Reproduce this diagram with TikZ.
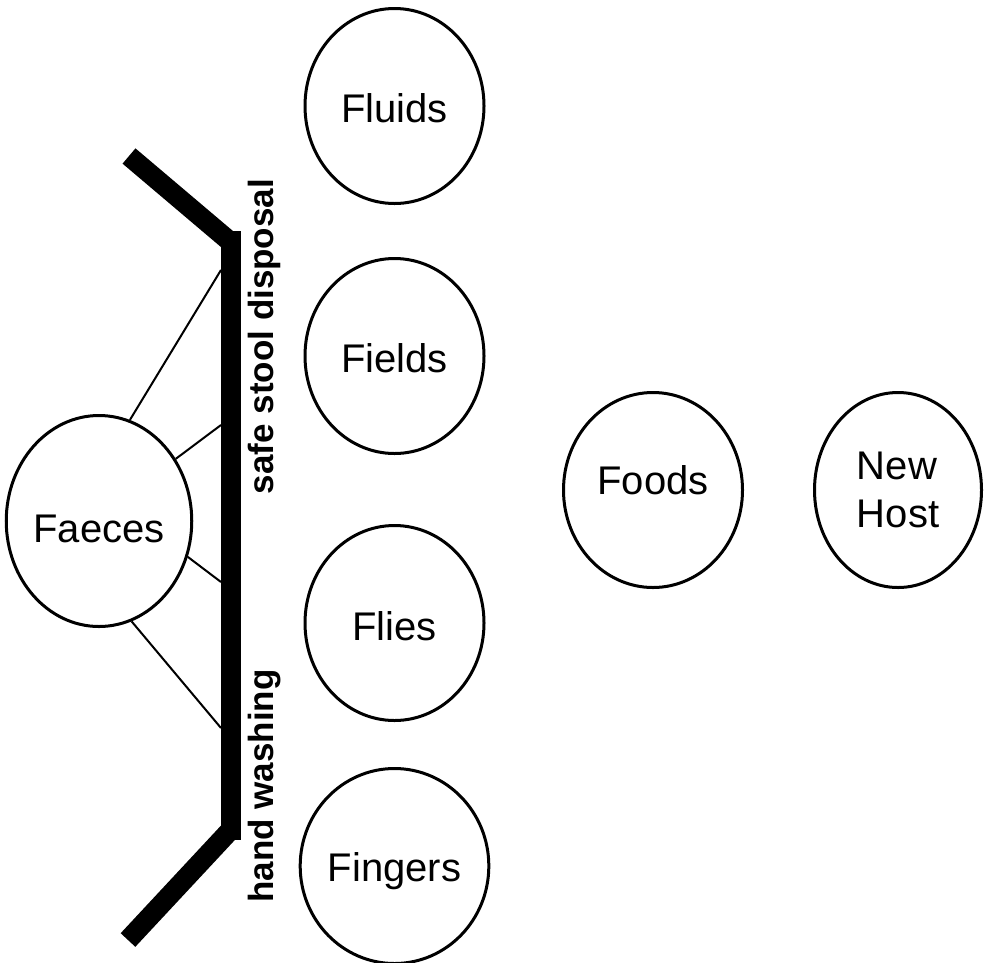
\documentclass[tikz,border=0pt]{standalone}
\usepackage{fontspec}
\setmainfont{Liberation Sans}
\usetikzlibrary{shapes.geometric}
\tikzset{
  blob/.style={ellipse, draw, line width=3pt, minimum width=179pt, minimum height=195pt,
    inner sep=0pt, text depth=0pt, font=\fontsize{40}{48}\selectfont},
  barrier/.style={line width=20pt, line cap=butt},
  link/.style={line width=2pt},
  barlabel/.style={rotate=90, anchor=base, inner sep=0pt, font=\fontsize{35}{42}\selectfont\bfseries}
}
\begin{document}
\begin{tikzpicture}[x=1pt,y=-1pt]
\useasboundingbox (0,0) rectangle (984,962);
% nodes
\node[blob, text height=32.6pt] (fluids) at (394.5,106) {Fluids};
\node[blob, text height=32.6pt] (fields) at (394.5,356) {Fields};
\node[blob, text height=34.6pt] (flies) at (394.5,623) {Flies};
\node[blob, text height=30.6pt] (fingers) at (394.5,866) {Fingers};
\node[blob, text height=28.6pt, text depth=20pt] (foods) at (653,490) {Foods};
\node[blob, minimum width=167pt, align=left] (newhost) at (898,490) {New\\Host};
\node[blob, minimum width=169pt, minimum height=211pt, text height=42.6pt] (faeces) at (99,521) {Faeces};
% barrier
\coordinate (tl) at (129,156);
\coordinate (tc) at (230.5,242);
\coordinate (vt) at (230.5,231);
\coordinate (vb) at (230.5,840);
\coordinate (bl) at (128,940);
\coordinate (bc) at (230.5,830);
\draw[barrier] (tl) -- (tc);
\draw[barrier] (vt) -- (vb);
\draw[barrier] (bl) -- (bc);
% links to barrier
\coordinate (b1) at (221,270);
\coordinate (b2) at (221,425);
\coordinate (b3) at (221,582);
\coordinate (b4) at (221,728);
\draw[link] (faeces.73.8) -- (b1);
\draw[link] (faeces.39.5) -- (b2);
\draw[link] (faeces.-22) -- (b3);
\draw[link] (faeces.-72.4) -- (b4);
% labels
\node[barlabel] (lab1) at (273,336.5) {safe stool disposal};
\node[barlabel] (lab2) at (273,786) {hand washing};
\end{tikzpicture}
\end{document}
